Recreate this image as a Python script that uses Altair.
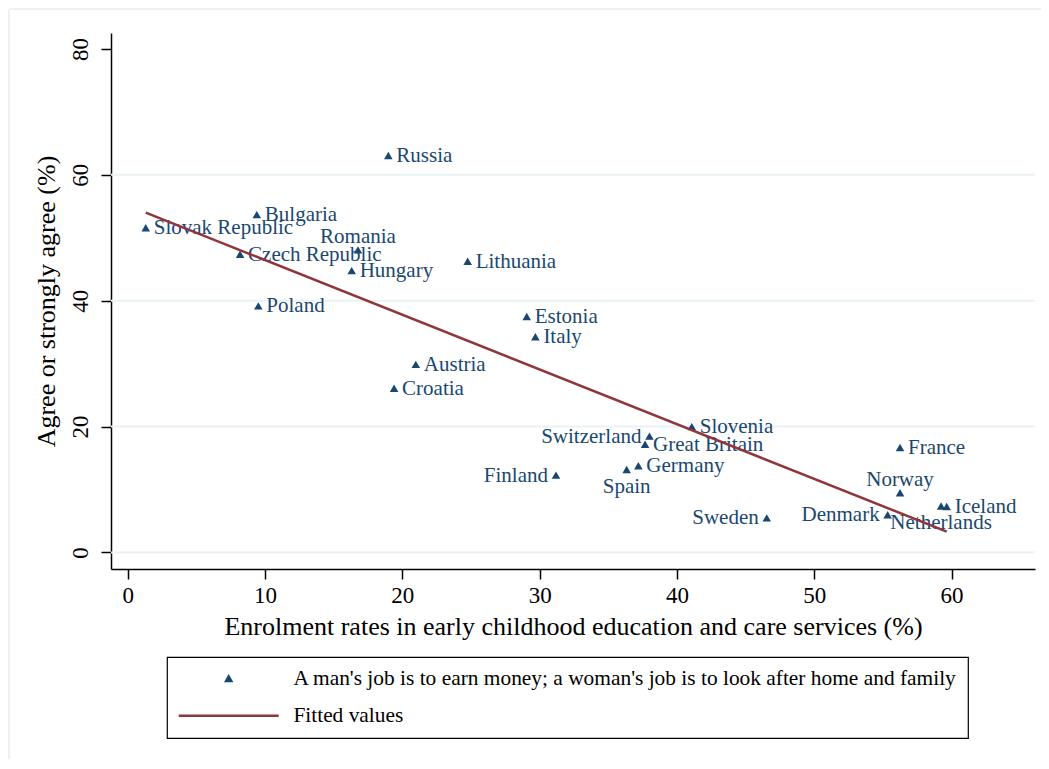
import altair as alt
import pandas as pd

# ---- data ----
countries = ["Russia", "Bulgaria", "Slovak Republic", "Romania", "Czech Republic", "Hungary",
             "Lithuania", "Poland", "Estonia", "Italy", "Austria", "Croatia", "Slovenia",
             "Switzerland", "Great Britain", "Finland", "Germany", "Spain", "Sweden",
             "Denmark", "Netherlands", "France", "Norway", "Iceland"]
enrolment = [18.98, 9.40, 1.31, 16.77, 8.18, 16.31,
             24.76, 9.51, 29.06, 29.69, 20.98, 19.40, 41.08,
             38.00, 37.68, 31.19, 37.19, 36.34, 46.54,
             55.35, 59.24, 56.25, 56.25, 59.65]
agree = [63.0, 53.6, 51.5, 48.0, 47.3, 44.7,
         46.2, 39.1, 37.4, 34.2, 29.8, 26.0, 19.9,
         18.4, 17.1, 12.2, 13.7, 13.1, 5.4,
         5.9, 7.3, 16.6, 9.4, 7.2]
fit_x = [1.31, 59.65]
fit_y = [54.0, 3.3]
x_ticks = [0, 10, 20, 30, 40, 50, 60]
y_ticks = [0, 20, 40, 60, 80]
grid_values = [0, 20, 40, 60]
series_names = ["A man's job is to earn money; a woman's job is to look after home and family",
                "Fitted values"]
x_title = "Enrolment rates in early childhood education and care services (%)"
y_title = "Agree or strongly agree (%)"

# ---- label placement (style) ----
left_labels = ["Switzerland", "Finland", "Sweden", "Denmark"]
above_labels = ["Romania", "Norway"]
below_labels = ["Spain", "Netherlands"]
right_labels = [c for c in countries if c not in left_labels + above_labels + below_labels]

NAVY = "#1a476f"
MAROON = "#90353b"
FRAME = "#eaf2f3"
FONT = "Liberation Serif"

df = pd.DataFrame({"country": countries, "x": enrolment, "y": agree})
df["series"] = series_names[0]
fit_df = pd.DataFrame({"x": fit_x, "y": fit_y})
fit_df["series"] = series_names[1]
grid_df = pd.DataFrame({"y": grid_values})

xscale = alt.Scale(domain=[-1.22, 66.08], nice=False, zero=False)
yscale = alt.Scale(domain=[-2.64, 82.54], nice=False, zero=False)
x_axis = alt.Axis(values=x_ticks, format="d", title=x_title)
y_axis = alt.Axis(values=y_ticks, format="d", title=y_title)

X = alt.X("x:Q", scale=xscale, axis=x_axis)
Y = alt.Y("y:Q", scale=yscale, axis=y_axis)

legend = alt.Legend(title=None, orient="none", legendX=56, legendY=624, direction="vertical")
color_scale = alt.Scale(domain=series_names, range=[NAVY, MAROON])
shape_scale = alt.Scale(domain=series_names, range=["triangle-up", "M-8,0L8,0"])
size_scale = alt.Scale(domain=series_names, range=[26, 156])

# light outer frame of the graph region (top and left edges)
frame_top = alt.Chart(grid_df).mark_rule(color=FRAME, strokeWidth=2).encode(
    x=alt.value(-102), x2=alt.value(940), y=alt.value(-24)
)
frame_left = alt.Chart(grid_df).mark_rule(color=FRAME, strokeWidth=2).encode(
    x=alt.value(-102), y=alt.value(-24), y2=alt.value(726)
)

grid = alt.Chart(grid_df).mark_rule(color=FRAME, strokeWidth=2).encode(y=Y)

points = alt.Chart(df).mark_point(filled=True, opacity=1).encode(
    x=X, y=Y,
    fill=alt.Fill("series:N", scale=color_scale, legend=legend),
    stroke=alt.Stroke("series:N", scale=color_scale, legend=legend),
    shape=alt.Shape("series:N", scale=shape_scale, legend=legend),
    size=alt.Size("series:N", scale=size_scale, legend=legend),
)

def labels(names, **kw):
    return alt.Chart(df).transform_filter(
        alt.FieldOneOfPredicate(field="country", oneOf=names)
    ).mark_text(font=FONT, fontSize=21, color=NAVY, baseline="middle", **kw).encode(
        x=X, y=Y, text="country:N",
    )

lab_right = labels(right_labels, align="left", dx=8)
lab_left = labels(left_labels, align="right", dx=-8)
lab_above = labels(above_labels, align="center", dy=-13)
lab_below = labels(below_labels, align="center", dy=17)

line = alt.Chart(fit_df).mark_line(strokeWidth=2.5).encode(
    x=X, y=Y,
    stroke=alt.Stroke("series:N", scale=color_scale, legend=legend),
)

chart = alt.layer(frame_top, frame_left, grid, points, lab_right, lab_left, lab_above,
                  lab_below, line).properties(
    width=924, height=536,
    padding={"left": 103, "top": 25, "right": 6, "bottom": 190},
    autosize=alt.AutoSizeParams(type="none"),
    background="white",
).configure_view(stroke=None).configure_axis(
    labelFont=FONT, titleFont=FONT, labelColor="black", titleColor="black",
    domainColor="black", tickColor="black", domainWidth=1.5, tickWidth=1.5, tickSize=10,
    grid=False, titleFontWeight="normal", labelFontSize=23, titleFontSize=26,
).configure_axisX(
    labelPadding=5, titlePadding=6,
).configure_axisY(
    labelAngle=270, labelAlign="center", labelBaseline="alphabetic", labelPadding=14,
    titlePadding=10,
).configure_legend(
    strokeColor="black", strokeWidth=1.2, padding=11, fillColor="white",
    labelFont=FONT, labelFontSize=21.4, labelColor="black", labelLimit=1200,
    labelOffset=54, symbolOffset=40, rowPadding=14, symbolStrokeWidth=2.5, symbolOpacity=1,
)

chart.save("out.html", embed_options={"renderer": "svg", "actions": False})
